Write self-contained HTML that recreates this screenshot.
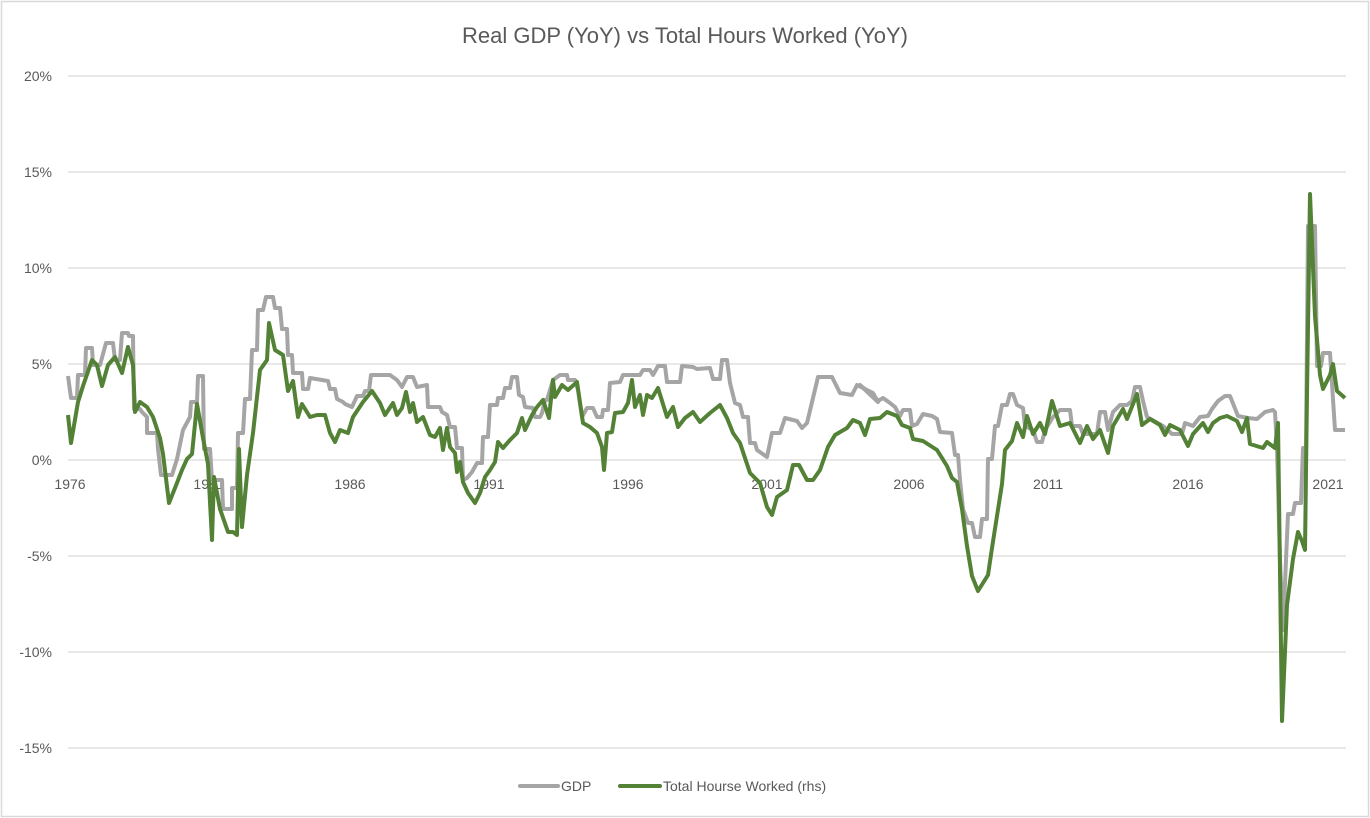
<!DOCTYPE html>
<html><head><meta charset="utf-8"><style>
body{margin:0;background:#fff;}
svg{display:block;}
text{font-family:"Liberation Sans",sans-serif;fill:#595959;}
</style></head><body>
<svg width="1370" height="818" viewBox="0 0 1370 818" xmlns="http://www.w3.org/2000/svg">
<rect x="1.5" y="1.5" width="1367" height="815" fill="#fff" stroke="#d9d9d9" stroke-width="1.5"/>
<text x="685" y="43" font-size="22" text-anchor="middle">Real GDP (YoY) vs Total Hours Worked (YoY)</text>
<g stroke="#d9d9d9" stroke-width="1.3">
<line x1="68" x2="1346" y1="76" y2="76"/><line x1="68" x2="1346" y1="172" y2="172"/>
<line x1="68" x2="1346" y1="268" y2="268"/><line x1="68" x2="1346" y1="364" y2="364"/>
<line x1="68" x2="1346" y1="460" y2="460"/><line x1="68" x2="1346" y1="556" y2="556"/>
<line x1="68" x2="1346" y1="652" y2="652"/><line x1="68" x2="1346" y1="748" y2="748"/>
</g>
<g font-size="14" text-anchor="end">
<text x="52" y="81">20%</text><text x="52" y="177">15%</text><text x="52" y="273">10%</text>
<text x="52" y="369">5%</text><text x="52" y="465">0%</text><text x="52" y="561">-5%</text>
<text x="52" y="657">-10%</text><text x="52" y="753">-15%</text>
</g>
<g font-size="14" text-anchor="middle">
<text x="70" y="489">1976</text><text x="209" y="489">1981</text><text x="350" y="489">1986</text>
<text x="489" y="489">1991</text><text x="628" y="489">1996</text><text x="767" y="489">2001</text>
<text x="909" y="489">2006</text><text x="1048" y="489">2011</text><text x="1188" y="489">2016</text>
<text x="1328" y="489">2021</text>
</g>
<polyline fill="none" stroke="#a5a5a5" stroke-width="4" stroke-linejoin="round" points="
68,376 71,398 77,398 78,375 85,375 86,348 92,348 93,365 100,365 106,343 113,343 115,360 120,360 122,333 128,333 129,336 133,336 134,409 140,409 142,412 147,417 147,433 157,433 158,449 161,475 168,475 172,475 177,459 183,430 190,417 191,402 197,402 198,376 203,376 204,449 210,449 212,480 222,480 223,509 232,509 232,488 237,488 238,433 243,433 245,399 250,399 252,350 257,350 258,310 263,310 266,297 273,297 275,308 280,308 282,329 287,329 288,355 292,355 293,373 302,373 303,389 308,389 310,378 328,381 330,389 335,389 337,399 343,402 345,404 352,407 357,396 363,396 365,391 369,391 371,375 378,375 380,375 390,375 397,380 402,387 407,377 413,377 417,387 427,385 428,407 440,407 442,412 447,415 450,427 455,427 457,448 462,448 463,480 467,478 472,472 477,463 482,463 483,437 488,437 490,405 497,405 498,398 503,398 505,388 510,388 512,377 517,377 519,395 523,397 525,407 533,408 535,417 540,417 542,413 545,400 547,400 553,380 560,375 567,375 568,380 575,380 578,390 582,417 587,408 593,408 597,417 602,417 603,410 608,410 610,383 620,382 623,375 640,375 643,370 650,370 653,375 658,366 665,366 667,382 680,382 682,366 693,367 697,369 710,368 713,379 720,379 722,360 727,360 730,383 735,403 740,405 743,417 748,417 750,443 755,443 757,450 767,457 772,433 780,433 785,418 797,421 802,428 807,423 813,398 818,377 832,377 840,393 852,395 857,385 863,388 873,393 878,402
860,385 865,389 873,394 878,401 883,398 890,403 895,407 900,416 903,410 910,410 912,426 917,424 923,414 932,416 937,419 940,432 952,433 955,455 958,455 960,480 963,509 968,523 972,523 975,537 980,537 982,519 987,519 988,459 992,459 995,426 998,426 1002,405 1007,405 1010,394 1013,394 1017,405 1023,408 1025,426 1033,430 1037,442 1042,442 1045,430 1053,417 1060,410 1070,410 1072,426 1080,426 1083,434 1097,434 1100,412 1105,412 1108,430 1113,412 1120,405 1127,405 1132,401 1135,387 1140,387 1143,401 1147,417 1163,426 1172,434 1182,434 1185,423 1193,426 1200,417 1208,416 1212,409 1218,401 1225,396 1230,396 1238,416 1248,418 1257,419 1265,412 1273,410 1275,412 1277,448 1280,560 1283,630 1286,560 1288,514 1293,514 1295,503 1301,503 1303,448 1306,448 1308,226 1315,226 1317,366 1321,366 1323,353 1330,353 1335,430 1345,430"/>
<polyline fill="none" stroke="#538135" stroke-width="4" stroke-linejoin="round" points="
68,415 71,443 78,402 83,386 92,360 97,365 102,386 108,365 115,357 122,373 128,347 133,365 135,412 140,402 147,407 153,417 160,438 163,454 169,503 175,488 182,470 187,459 192,454 197,404 203,438 208,464 212,540 214,477 220,509 228,532 233,532 237,535 239,449 242,527 247,475 253,433 260,370 267,360 269,323 275,350 283,355 288,391 293,381 298,417 302,404 310,417 317,415 325,415 330,433 335,442 340,430 348,433 353,417 363,402 372,391 380,403 385,415 393,403 397,415 402,408 406,392 410,412 413,403 417,422 423,417 430,435 435,437 440,428 443,450 447,428 450,447 455,453 457,472 460,462 463,482 468,493 475,503 480,493 485,477 490,470 495,462 498,442 503,448 510,440 517,433 522,418 525,430 532,415 537,407 543,400 549,418 553,380 555,397 562,385 568,390 577,382 583,423 590,427 597,433 602,447 604,470 607,433 612,432 615,413 623,412 628,403 632,380 635,407 640,395 643,415 647,395 652,398 658,388 667,417 673,407 678,427 685,418 693,412 700,422 710,413 720,405 727,418 733,433 740,443 750,473 760,483 767,507 772,515 777,497 787,490 793,465 799,465 807,480 813,480 820,470 828,447 835,435 847,428 853,420 860,423 865,435 870,419 880,418 887,412 897,416 902,425 910,428 913,439 923,441 937,450 947,466 952,478 957,482 962,509 967,546 972,576 978,591 988,575 992,548 997,516 1002,484 1005,450 1012,441 1017,423 1023,437 1027,416 1033,434 1040,423 1045,434 1052,401 1060,426 1070,423 1077,437 1080,443 1087,426 1093,439 1100,430 1108,453 1113,426 1123,409 1127,419 1137,394 1142,425 1150,419 1160,425 1165,435 1170,425 1180,430 1188,446 1193,434 1203,423 1208,432 1213,423 1220,418 1227,416 1237,421 1242,432 1247,418 1250,444 1263,448 1267,442 1275,448 1278,423 1282,721 1287,605 1293,559 1298,532 1302,541 1305,550 1307,394 1310,194 1315,316 1320,375 1323,389 1330,375 1333,364 1337,391 1345,398"/>
<line x1="520" y1="786" x2="558" y2="786" stroke="#a5a5a5" stroke-width="4" stroke-linecap="round"/>
<text x="561" y="791" font-size="14">GDP</text>
<line x1="620" y1="786" x2="660" y2="786" stroke="#538135" stroke-width="4" stroke-linecap="round"/>
<text x="663" y="791" font-size="14">Total Hourse Worked (rhs)</text>
</svg>
</body></html>
